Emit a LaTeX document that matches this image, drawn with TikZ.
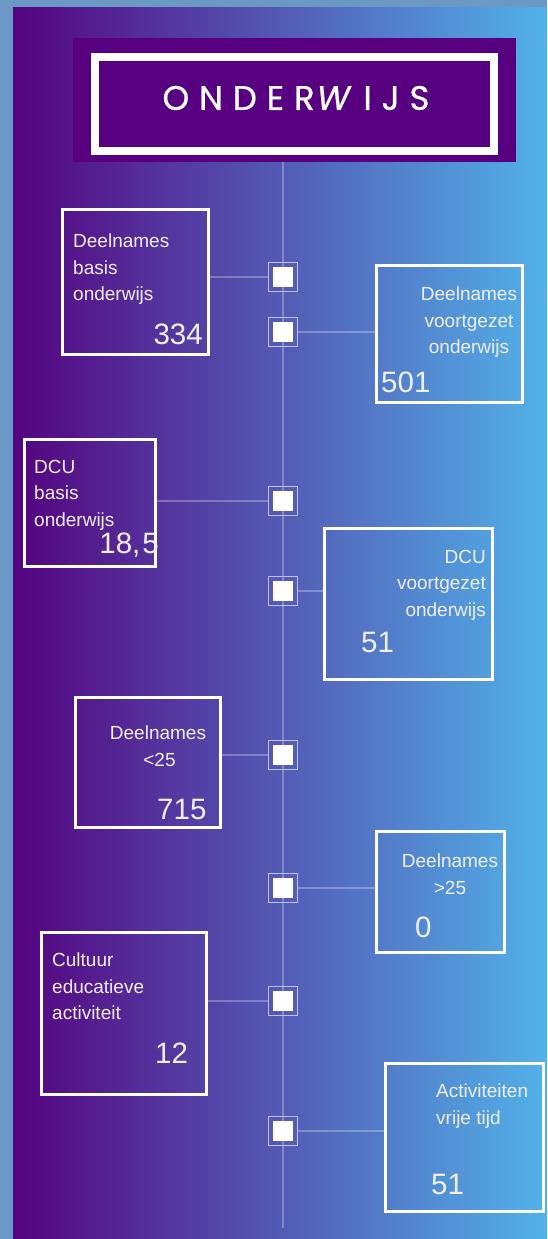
\documentclass[tikz,border=0pt]{standalone}
\usepackage{fontspec}
\setmainfont{Liberation Sans}
\newfontfamily\ttlfont[LetterSpace=29,FakeBold=0.7]{Poppins}
\definecolor{gleft}{HTML}{54037F}
\definecolor{gright}{HTML}{52B2E9}
\definecolor{hdr}{HTML}{570080}
\definecolor{outerbg}{HTML}{6C98C6}
\definecolor{txt}{HTML}{F0EEFB}
\tikzset{
  x=1pt,y=-1pt,
  infobox/.style={draw=white,line width=3pt,inner sep=0pt},
  lbl/.style={text=txt,inner sep=0pt,font=\fontsize{19}{26.5}\selectfont},
  num/.style={text=txt,inner sep=0pt,font=\fontsize{29.5}{32}\selectfont},
  sqouter/.style={draw=white!75!blue,line width=1pt,minimum size=29pt,inner sep=0pt},
  sqinner/.style={fill=white,minimum size=20pt,inner sep=0pt},
  link/.style={draw=white,draw opacity=.28,line width=1.5pt},
}
\newcommand{\ibox}[5]{\path[infobox] (#2,#3) rectangle (#4,#5);
  \coordinate (#1w) at (#2,#3); \coordinate (#1e) at (#4,#5);}
\begin{document}
\begin{tikzpicture}
\useasboundingbox (0,0) rectangle (547,1239);
\fill[outerbg] (0,0) rectangle (547,1239);
\fill[left color=gleft,right color=gright] (13,8) rectangle (547,1239);
% axis
\coordinate (axtop) at (283,162);
\coordinate (axbot) at (283,1228);
\draw[link] (axtop) -- (axbot);
% header
\fill[hdr] (73,38) rectangle (516,162);
\draw[white,line width=8pt] (95,57) rectangle (494,151);
\node[text=white,inner sep=0pt,font=\ttlfont\fontsize{34}{36}\selectfont] (title) at (296,98) {ONDER\kern2pt\textit{W}\kern2pt IJS};
% squares
\foreach \n/\yy in {a/277,b/332,c/501,d/591,e/755,f/888,g/1001,h/1131}{
  \node[sqouter] (s\n) at (283,\yy) {};
  \node[sqinner] at (283,\yy) {};
}
% boxes
\ibox{A}{62}{209}{208}{354}
\ibox{B}{376}{265}{522}{402}
\ibox{C}{24}{439}{155}{566}
\ibox{D}{324}{528}{492}{679}
\ibox{E}{75}{697}{220}{827}
\ibox{F}{376}{831}{504}{952}
\ibox{G}{41}{932}{206}{1094}
\ibox{H}{385}{1063}{543}{1211}
% connectors
\draw[link] (sa.west) -- (sa.west -| Ae);
\draw[link] (sb.east) -- (sb.east -| Bw);
\draw[link] (sc.west) -- (sc.west -| Ce);
\draw[link] (sd.east) -- (sd.east -| Dw);
\draw[link] (se.west) -- (se.west -| Ee);
\draw[link] (sf.east) -- (sf.east -| Fw);
\draw[link] (sg.west) -- (sg.west -| Ge);
\draw[link] (sh.east) -- (sh.east -| Hw);
% labels
\node[lbl,align=left,anchor=north west] (la) at (73,234) {Deelnames\\basis\\onderwijs};
\node[num,anchor=base east] (na) at (203,344) {334};
\node[lbl,align=center,anchor=north] (lb) at (469,287) {Deelnames\\voortgezet\\onderwijs};
\node[num,anchor=base west] (nb) at (381,392) {501};
\node[lbl,align=left,anchor=north west] (lc) at (34,460) {DCU\\basis\\onderwijs};
\node[num,anchor=base east] (nc) at (159,553) {18,\kern2pt 5};
\node[lbl,align=right,anchor=north east] (ld) at (486,550) {DCU\\voortgezet\\onderwijs};
\node[num,anchor=base west] (nd) at (361,652) {51};
\node[lbl,align=center,anchor=north] (le) at (158,726) {Deelnames\\\kern3pt<25};
\node[num,anchor=base west] (ne) at (157,819) {715};
\node[lbl,align=center,anchor=north] (lf) at (450,854) {Deelnames\\>25};
\node[num,anchor=base west] (nf) at (415,937) {0};
\node[lbl,align=left,anchor=north west] (lg) at (52,953) {Cultuur\\educatieve\\activiteit};
\node[num,anchor=base west] (ng) at (155,1063) {12};
\node[lbl,align=left,anchor=north west] (lh) at (436,1084) {Activiteiten\\vrije tijd};
\node[num,anchor=base west] (nh) at (431,1194) {51};
\end{tikzpicture}
\end{document}
